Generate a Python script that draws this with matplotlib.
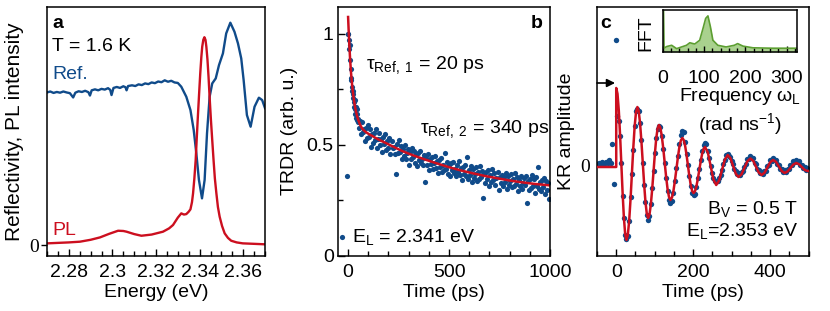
import numpy as np
import matplotlib.pyplot as plt
from matplotlib.ticker import MultipleLocator

plt.rcParams['font.family'] = ['Liberation Sans', 'DejaVu Sans']
plt.rcParams['mathtext.fontset'] = 'custom'
plt.rcParams['mathtext.rm'] = 'Liberation Sans'
plt.rcParams['mathtext.it'] = 'Liberation Sans:italic'
plt.rcParams['mathtext.bf'] = 'Liberation Sans:bold'
plt.rcParams['font.size'] = 14
plt.rcParams['axes.linewidth'] = 1.1

BLUE = '#104b8a'
RED = '#cc0f1f'
GREEN_LINE = '#5c9e31'
GREEN_FILL = '#a9d18e'

# ---------------- panel a: reflectivity + PL (arb. units)
energy_ref = [2.2700, 2.2715, 2.2730, 2.2745, 2.2760, 2.2775, 2.2790, 2.2805, 2.2820, 2.2830,
              2.2845, 2.2860, 2.2875, 2.2890, 2.2897, 2.2905, 2.2920, 2.2935, 2.2950, 2.2965,
              2.2980, 2.2990, 2.2996, 2.3005, 2.3020, 2.3035, 2.3050, 2.3060, 2.3065, 2.3072,
              2.3090, 2.3105, 2.3120, 2.3135, 2.3150, 2.3165, 2.3180, 2.3195, 2.3210, 2.3225,
              2.3240, 2.3255, 2.3270, 2.3285, 2.3300, 2.3316, 2.3339, 2.3358, 2.3373, 2.3385,
              2.3397, 2.3411, 2.3423, 2.3434, 2.3446, 2.3458, 2.3474, 2.3489, 2.3507, 2.3522,
              2.3541, 2.3560, 2.3576, 2.3591, 2.3602, 2.3617, 2.3634, 2.3652, 2.3672, 2.3687,
              2.3700]
reflectivity = [0.641, 0.645, 0.639, 0.643, 0.640, 0.645, 0.641, 0.638, 0.620, 0.640,
                0.646, 0.643, 0.648, 0.642, 0.628, 0.650, 0.654, 0.650, 0.656, 0.653,
                0.659, 0.652, 0.630, 0.660, 0.664, 0.660, 0.667, 0.663, 0.650, 0.668,
                0.671, 0.668, 0.675, 0.672, 0.679, 0.676, 0.683, 0.680, 0.687, 0.684,
                0.692, 0.686, 0.690, 0.683, 0.681, 0.665, 0.623, 0.567, 0.483, 0.385,
                0.273, 0.196, 0.273, 0.469, 0.623, 0.679, 0.700, 0.756, 0.805, 0.889,
                0.934, 0.896, 0.847, 0.784, 0.693, 0.546, 0.497, 0.581, 0.619, 0.609,
                0.575]

energy_pl = [2.2701, 2.2750, 2.2800, 2.2851, 2.2900, 2.2943, 2.2985, 2.3026, 2.3050, 2.3065,
             2.3100, 2.3133, 2.3180, 2.3232, 2.3260, 2.3278, 2.3300, 2.3316, 2.3328, 2.3339,
             2.3350, 2.3358, 2.3365, 2.3370, 2.3376, 2.3382, 2.3387, 2.3392, 2.3398, 2.3403,
             2.3408, 2.3412, 2.3417, 2.3422, 2.3427, 2.3431, 2.3436, 2.3441, 2.3446, 2.3452,
             2.3458, 2.3464, 2.3470, 2.3477, 2.3484, 2.3492, 2.3503, 2.3515, 2.3530, 2.3545,
             2.3570, 2.3598, 2.3650, 2.3700]
pl_intensity = [0.007, 0.009, 0.011, 0.014, 0.022, 0.032, 0.047, 0.060, 0.059, 0.056,
                0.046, 0.039, 0.044, 0.056, 0.070, 0.084, 0.115, 0.133, 0.128, 0.130,
                0.140, 0.150, 0.180, 0.217, 0.280, 0.357, 0.450, 0.539, 0.640, 0.721,
                0.790, 0.833, 0.862, 0.873, 0.862, 0.833, 0.780, 0.707, 0.620, 0.525,
                0.440, 0.357, 0.280, 0.217, 0.160, 0.119, 0.080, 0.049, 0.030, 0.018,
                0.011, 0.007, 0.005, 0.003]

# ---------------- panel b: TRDR transient
t_b_early = [-3, 0, 2, 4, 6, 8, 10, 12, 14, 16, 18, 20, 22, 24, 26, 28, 30, 32, 34, 36,
             38, 40, 42, 44, 46, 48]
trdr_early = [0.36, 1.00, 1.00, 0.97, 0.93, 0.95, 0.88, 0.84, 0.80, 0.79, 0.74, 0.76, 0.73,
              0.71, 0.74, 0.69, 0.67, 0.70, 0.66, 0.64, 0.67, 0.62, 0.66, 0.61, 0.64, 0.60]
t_b_late = np.arange(50, 1000, 5)
trdr_late = [0.615, 0.575, 0.605, 0.548, 0.600, 0.555, 0.570, 0.516, 0.573, 0.530,
             0.587, 0.535, 0.572, 0.490, 0.547, 0.505, 0.552, 0.520, 0.568, 0.485,
             0.523, 0.551, 0.499, 0.527, 0.465, 0.533, 0.501, 0.549, 0.477, 0.515,
             0.483, 0.531, 0.458, 0.516, 0.483, 0.491, 0.459, 0.366, 0.504, 0.461,
             0.519, 0.467, 0.495, 0.433, 0.481, 0.449, 0.497, 0.435, 0.463, 0.481,
             0.409, 0.467, 0.436, 0.484, 0.442, 0.471, 0.419, 0.457, 0.405, 0.464,
             0.432, 0.470, 0.419, 0.437, 0.406, 0.454, 0.333, 0.441, 0.410, 0.458,
             0.387, 0.435, 0.414, 0.442, 0.391, 0.419, 0.448, 0.396, 0.425, 0.373,
             0.432, 0.401, 0.439, 0.378, 0.406, 0.385, 0.464, 0.392, 0.421, 0.369,
             0.408, 0.357, 0.415, 0.384, 0.423, 0.372, 0.391, 0.359, 0.408, 0.377,
             0.426, 0.365, 0.393, 0.342, 0.401, 0.369, 0.408, 0.357, 0.446, 0.345,
             0.384, 0.363, 0.402, 0.331, 0.390, 0.349, 0.368, 0.397, 0.336, 0.375,
             0.344, 0.403, 0.352, 0.381, 0.260, 0.369, 0.328, 0.377, 0.346, 0.385,
             0.315, 0.364, 0.333, 0.392, 0.341, 0.370, 0.319, 0.348, 0.378, 0.297,
             0.356, 0.325, 0.364, 0.314, 0.353, 0.332, 0.371, 0.300, 0.360, 0.319,
             0.338, 0.367, 0.307, 0.346, 0.315, 0.374, 0.324, 0.353, 0.292, 0.342,
             0.311, 0.360, 0.300, 0.329, 0.348, 0.318, 0.357, 0.236, 0.336, 0.295,
             0.345, 0.304, 0.364, 0.313, 0.343, 0.282, 0.352, 0.311, 0.401, 0.300,
             0.330, 0.289, 0.339, 0.308, 0.348, 0.277, 0.337, 0.297, 0.326, 0.256]
t_b_fit = [0, 3, 6, 10, 14, 18, 22, 26, 30, 35, 40, 45, 50, 60, 70, 80, 90, 105, 125, 150,
           180, 220, 270, 320, 380, 440, 500, 560, 620, 680, 740, 800, 860, 920, 1000]
trdr_fit = [1.075, 1.01, 0.95, 0.885, 0.83, 0.787, 0.75, 0.72, 0.695, 0.667, 0.645, 0.627,
            0.612, 0.588, 0.572, 0.562, 0.555, 0.546, 0.536, 0.523, 0.510, 0.492, 0.470,
            0.452, 0.433, 0.415, 0.398, 0.383, 0.370, 0.358, 0.348, 0.338, 0.330, 0.323, 0.316]

# ---------------- panel c: Kerr rotation
t_c = [-50, -46, -42, -38, -34, -30, -26, -22, -18, -14, -10, -6, 0,
       3.3, 6.6, 10, 13.3, 16.6, 20, 23.3, 26.6,
       30.2, 33.7, 37.3, 40.8, 44.4, 47.9, 51.5, 55,
       58.5, 62, 65.5, 69, 72.5, 76, 79.5, 83,
       86.5, 90, 93.5, 97, 100.5, 104, 107.5, 111,
       114.8, 118.5, 122.3, 126, 129.8, 133.5, 137.3, 141,
       144.9, 148.8, 152.6, 156.5, 160.4, 164.3, 168.1, 172,
       175.6, 179.3, 182.9, 186.5, 190.1, 193.8, 197.4, 201,
       204.8, 208.5, 212.3, 216, 219.8, 223.5, 227.3, 231,
       234.6, 238.3, 241.9, 245.5, 249.1, 252.8, 256.4, 260,
       263.8, 267.5, 271.3, 275, 278.8, 282.5, 286.3, 290,
       293.5, 297, 300.5, 304, 307.5, 311, 314.5, 318,
       321.9, 325.8, 329.6, 333.5, 337.4, 341.3, 345.1, 349,
       352.6, 356.3, 359.9, 363.5, 367.1, 370.8, 374.4, 378,
       381.8, 385.5, 389.3, 393, 396.8, 400.5, 404.3, 408,
       411.8, 415.5, 419.3, 423, 426.8, 430.5, 434.3, 438,
       441.8, 445.5, 449.3, 453, 456.8, 460.5, 464.3, 468,
       471.6, 475.3, 478.9, 482.5, 486.1, 489.8, 493.4, 497]
kr = [0.02, 0.03, 0.02, 0.04, 0.02, 0.03, 0.04, 0.03, 0.06, 0.03, 0.22, -0.18, 1.26,
      0.50, 0.45, 0.30, 0.03, -0.30, -0.52, -0.69, -0.73,
      -0.70, -0.55, -0.31, -0.08, 0.16, 0.40, 0.55, 0.57,
      0.55, 0.43, 0.26, 0.03, -0.19, -0.36, -0.49, -0.54,
      -0.50, -0.38, -0.22, -0.05, 0.13, 0.28, 0.37, 0.40,
      0.39, 0.30, 0.17, 0.03, -0.12, -0.25, -0.34, -0.37,
      -0.35, -0.27, -0.15, -0.02, 0.10, 0.22, 0.31, 0.35,
      0.34, 0.24, 0.12, 0.01, -0.10, -0.20, -0.27, -0.29,
      -0.28, -0.21, -0.12, -0.03, 0.06, 0.15, 0.21, 0.23,
      0.22, 0.15, 0.08, 0.00, -0.07, -0.12, -0.15, -0.15,
      -0.15, -0.12, -0.09, -0.04, 0.02, 0.06, 0.11, 0.12,
      0.10, 0.09, 0.05, 0.02, -0.03, -0.05, -0.08, -0.07,
      -0.09, -0.06, -0.05, -0.01, 0.02, 0.07, 0.07, 0.10,
      0.08, 0.08, 0.03, 0.02, -0.03, -0.04, -0.07, -0.06,
      -0.08, -0.05, -0.05, 0.00, 0.01, 0.06, 0.05, 0.08,
      0.06, 0.06, 0.02, 0.01, -0.03, -0.03, -0.06, -0.04,
      -0.06, -0.03, -0.03, 0.01, 0.01, 0.05, 0.04, 0.06,
      0.04, 0.05, 0.01, 0.01, -0.02, -0.01, -0.04, -0.02]
t_c_fit = [-50, 0, 0, 3.3, 6.65, 10, 13.3, 16.6, 19.95, 23.3, 26.6,
           30.15, 33.7, 37.25, 40.8, 44.35, 47.9, 51.45, 55,
           58.5, 62, 65.5, 69, 72.5, 76, 79.5, 83,
           86.5, 90, 93.5, 97, 100.5, 104, 107.5, 111,
           114.75, 118.5, 122.25, 126, 129.75, 133.5, 137.25, 141,
           144.9, 148.75, 152.6, 156.5, 160.4, 164.25, 168.1, 172,
           175.6, 179.25, 182.9, 186.5, 190.1, 193.75, 197.4, 201,
           204.75, 208.5, 212.25, 216, 219.75, 223.5, 227.25, 231,
           238.25, 245.5, 252.75, 260, 267.5, 275, 282.5, 290,
           297, 304, 311, 318, 325.75, 333.5, 341.25, 349,
           356.25, 363.5, 370.75, 378, 385.5, 393, 400.5, 408,
           415.5, 423, 430.5, 438, 445.5, 453, 460.5, 468,
           475.25, 482.5, 489.75, 497, 500]
kr_fit = [-0.01, -0.01, 0.78, 0.722, 0.558, 0.31, 0.02, -0.27, -0.518, -0.682, -0.74,
          -0.689, -0.546, -0.329, -0.075, 0.179, 0.396, 0.539, 0.59,
          0.548, 0.428, 0.247, 0.035, -0.177, -0.358, -0.478, -0.52,
          -0.485, -0.384, -0.233, -0.055, 0.123, 0.274, 0.375, 0.41,
          0.382, 0.30, 0.178, 0.035, -0.108, -0.23, -0.31, -0.34,
          -0.316, -0.25, -0.148, -0.03, 0.088, 0.19, 0.256, 0.28,
          0.259, 0.20, 0.11, 0.005, -0.10, -0.19, -0.249, -0.27,
          -0.253, -0.203, -0.128, -0.04, 0.048, 0.123, 0.172, 0.19,
          0.135, 0.0, -0.135, -0.19, -0.146, -0.04, 0.066, 0.11,
          0.078, 0.0, -0.078, -0.11, -0.083, -0.0175, 0.048, 0.075,
          0.051, -0.0075, -0.066, -0.09, -0.068, -0.015, 0.038, 0.06,
          0.041, -0.005, -0.051, -0.07, -0.055, -0.02, 0.015, 0.03,
          0.018, -0.01, -0.038, -0.05, -0.049]

# inset FFT
freq = [0, 2.4, 9, 21, 33, 45, 57, 65, 77, 89, 97, 103.5, 109, 115, 121, 133, 153, 173,
        181, 194, 218, 266, 322, 330]
fft_amp = [2.0, 0.09, 0.13, 0.16, 0.08, 0.12, 0.16, 0.22, 0.19, 0.28, 0.56, 0.80, 0.86,
           0.60, 0.28, 0.16, 0.12, 0.16, 0.20, 0.14, 0.10, 0.09, 0.09, 0.09]

W, H = 830, 311
fig = plt.figure(figsize=(W / 100, H / 100), dpi=100)


def px_axes(x0, x1, y0, y1):
    return fig.add_axes([x0 / W, 1 - y1 / H, (x1 - x0) / W, (y1 - y0) / H])


tick_kw = dict(direction='in', width=1.0)

# ---- a
axa = px_axes(47, 265, 7, 255.5)
axa.plot(energy_ref, reflectivity, color=BLUE, lw=1.7)
axa.plot(energy_pl, pl_intensity, color=RED, lw=1.7)
axa.set_xlim(2.27, 2.37)
axa.set_ylim(-0.044, 1.0)
axa.set_xticks([2.28, 2.30, 2.32, 2.34, 2.36])
axa.set_xticklabels(['2.28', '2.3', '2.32', '2.34', '2.36'])
axa.xaxis.set_minor_locator(MultipleLocator(0.005))
axa.tick_params(axis='x', which='major', length=5, pad=6, **tick_kw)
axa.tick_params(axis='x', which='minor', length=3.5, **tick_kw)
axa.set_yticks([0])
axa.set_yticklabels(['0'], fontfamily='Liberation Serif')
axa.tick_params(axis='y', direction='out', length=4.5, width=1.0, pad=1)
axa.set_xlabel('Energy (eV)', labelpad=2)
axa.set_ylabel('Reflectivity, PL intensity', fontsize=15)
axa.yaxis.set_label_coords(-0.106, 0.5)
axa.text(0.023, 0.915, 'a', transform=axa.transAxes, fontweight='bold', va='baseline')
axa.text(0.023, 0.821, 'T = 1.6 K', transform=axa.transAxes, va='baseline')
axa.text(0.023, 0.71, 'Ref.', transform=axa.transAxes, va='baseline', color=BLUE)
axa.text(0.023, 0.082, 'PL', transform=axa.transAxes, va='baseline', color=RED)

# ---- b
axb = px_axes(338, 550, 7, 255.5)
axb.scatter(t_b_early, trdr_early, s=14, color=BLUE, lw=0, label='E$_\\mathrm{L}$ = 2.341 eV')
axb.scatter(t_b_late, trdr_late, s=14, color=BLUE, lw=0)
axb.plot(t_b_fit, trdr_fit, color=RED, lw=1.8)
axb.set_xlim(-50, 1000)
axb.set_ylim(0, 1.12)
axb.set_xticks([0, 500, 1000])
axb.xaxis.set_minor_locator(MultipleLocator(100))
axb.set_yticks([0, 0.5, 1])
axb.set_yticklabels(['0', '0.5', '1'])
axb.yaxis.set_minor_locator(MultipleLocator(0.25))
axb.tick_params(axis='both', which='major', length=5, **tick_kw)
axb.tick_params(axis='both', which='minor', length=3.5, **tick_kw)
axb.tick_params(axis='x', pad=6)
axb.tick_params(axis='y', pad=3)
axb.set_xlabel('Time (ps)', labelpad=2)
axb.set_ylabel('TRDR (arb. u.)')
axb.yaxis.set_label_coords(-0.189, 0.5)
axb.text(0.967, 0.915, 'b', transform=axb.transAxes, fontweight='bold', ha='right', va='baseline')
axb.text(0.132, 0.75, 'τ$_\\mathrm{Ref,\\ 1}$ = 20 ps', transform=axb.transAxes, va='baseline')
axb.text(0.387, 0.493, 'τ$_\\mathrm{Ref,\\ 2}$ = 340 ps', transform=axb.transAxes, va='baseline')
axb.legend(loc='lower left', bbox_to_anchor=(-0.005, 0.035), frameon=False, handlelength=0.5,
           handletextpad=0.3, borderaxespad=0, borderpad=0, markerscale=1.0)

# ---- c
axc = px_axes(597, 808.5, 7, 255.5)
axc.scatter(t_c, kr, s=15, color=BLUE, lw=0, zorder=2)
axc.plot(t_c_fit, kr_fit, color=RED, lw=1.8, zorder=3)
axc.set_xlim(-50, 500)
axc.set_ylim(-0.895, 1.59)
axc.set_xticks([0, 200, 400])
axc.xaxis.set_minor_locator(MultipleLocator(50))
axc.tick_params(axis='x', which='major', length=5, pad=6, **tick_kw)
axc.tick_params(axis='x', which='minor', length=3.5, **tick_kw)
axc.set_yticks([0])
axc.set_yticklabels(['0'], fontfamily='Liberation Serif')
axc.tick_params(axis='y', length=5, pad=5, **tick_kw)
axc.set_xlabel('Time (ps)', labelpad=2)
axc.set_ylabel('KR amplitude')
axc.yaxis.set_label_coords(-0.104, 0.5)
axc.text(0.014, 0.915, 'c', transform=axc.transAxes, fontweight='bold', va='baseline')
axc.annotate('', xy=(-3, 0.83), xytext=(-50, 0.83),
             arrowprops=dict(arrowstyle='-|>', color='black', lw=1.2, mutation_scale=12,
                             shrinkA=0, shrinkB=0))
axc.text(0.948, 0.166, 'B$_\\mathrm{V}$ = 0.5 T', transform=axc.transAxes, ha='right', va='baseline')
axc.text(0.952, 0.08, 'E$_\\mathrm{L}$=2.353 eV', transform=axc.transAxes, ha='right', va='baseline')

# inset
axi = px_axes(663, 797, 10, 52)
axi.fill_between(freq, fft_amp, 0, color=GREEN_FILL, lw=0)
axi.plot(freq, fft_amp, color=GREEN_LINE, lw=1.2)
axi.set_xlim(0, 325)
axi.set_ylim(0, 1.0)
axi.set_yticks([])
axi.set_xticks([0, 100, 200, 300])
axi.xaxis.set_minor_locator(MultipleLocator(20))
axi.tick_params(axis='x', which='major', length=4, pad=13, **tick_kw)
axi.tick_params(axis='x', which='minor', length=3, **tick_kw)
axi.text(0.575, -1.167, 'Frequency ω$_\\mathrm{L}$', transform=axi.transAxes, ha='center', va='baseline')
axi.text(0.575, -1.86, '(rad ns$^{-1}$)', transform=axi.transAxes, ha='center', va='baseline')
axi.text(-0.127, 0.45, 'FFT', transform=axi.transAxes, rotation=90, ha='center', va='center')

fig.savefig('out.png', dpi=100)
